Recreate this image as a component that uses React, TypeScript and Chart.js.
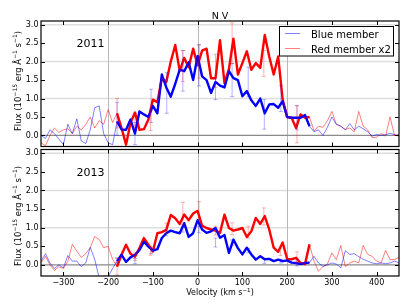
import { useEffect, useRef } from "react";
import { Chart, registerables } from "chart.js";
Chart.register(...registerables);

const FONT = "DejaVu Sans";

const velocity = [
  -350, -340, -330, -320, -310, -300, -290, -280, -270, -260,
  -250, -240, -230, -220, -210, -200, -190, -180, -170, -160,
  -150, -140, -130, -120, -110, -100, -90, -80, -70, -60,
  -50, -40, -30, -20, -10, 0, 10, 20, 30, 40,
  50, 60, 70, 80, 90, 100, 110, 120, 130, 140,
  150, 160, 170, 180, 190, 200, 210, 220, 230, 240,
  250, 260, 270, 280, 290, 300, 310, 320, 330, 340,
  350, 360, 370, 380, 390, 400, 410, 420, 430, 440, 450,
];

const blue2011 = [
  0.0, -0.08, 0.15, 0.05, -0.1, -0.25, 0.3, 0.05, 0.45, -0.15,
  -0.22, 0.15, 0.75, 0.8, 0.05, -0.2, -0.25, 0.38, 0.16, 0.15,
  0.43, 0.05, 0.65, 0.57, 0.5, 0.8, 0.6, 1.65, 1.3, 1.05,
  1.4, 1.78, 1.74, 1.98, 1.5, 2.15, 1.6, 1.5, 1.15, 1.45,
  1.35, 1.3, 1.74, 1.55, 1.5, 1.06, 1.2, 0.95, 0.8, 1.0,
  0.6, 0.84, 0.85, 0.75, 0.93, 0.5, 0.48, 0.48, 0.48, 0.55,
  0.25, 0.1, 0.15, 0.0, 0.22, 0.5, 0.3, 0.25, 0.15, 0.32,
  0.15, 0.25, 0.18, 0.1, -0.02, 0.02, 0.0, 0.02, 0.06, 0.02, -0.02,
];

const red2011 = [
  -0.2, -0.28, 0.0, 0.2, 0.08, 0.15, 0.18, 0.05, 0.25, 0.15,
  0.3, 0.5, 0.2, 0.4, 0.3, 0.7, 0.35, 0.6, 0.2, -0.25,
  0.34, 0.62, 0.15, 0.17, 0.43, 0.97, 0.9, 1.55, 1.45, 2.0,
  2.45, 1.75, 2.1, 1.85, 2.35, 1.9, 2.3, 2.35, 1.55, 1.55,
  2.58, 1.42, 1.8, 2.62, 1.65, 1.96, 2.28, 1.78, 1.96, 1.83,
  2.72, 2.14, 1.65, 2.14, 0.97, 0.5, 0.48, 0.2, 0.57, 0.48,
  0.5, 0.12, 0.25, 0.22, 0.4, 0.65, 0.3, 0.25, 0.16, 0.2,
  0.1, 0.65, 0.25, 0.15, -0.06, -0.05, 0.05, -0.02, 0.5, 0.0, 0.02,
];

const blue2013 = [
  0.1, 0.3, 0.05, -0.1, 0.0, -0.08, 0.25, 0.1, 0.1, -0.05,
  0.05, 0.47, 0.15, -0.35, -0.3, -0.32, -0.1, 0.1, 0.27, 0.08,
  0.2, 0.27, 0.4, 0.62, 0.49, 0.38, 0.42, 0.72, 0.85, 0.92,
  0.88, 0.85, 1.12, 0.75, 0.85, 1.2, 0.95, 0.86, 0.9, 0.99,
  0.73, 0.8, 0.32, 0.68, 0.45, 0.28, 0.46, 0.28, 0.14, 0.23,
  0.15, 0.16, 0.1, 0.14, 0.1, 0.12, 0.06, 0.05, 0.02, 0.05,
  0.06, 0.23, 0.05, -0.04, 0.0, 0.05, 0.02, -0.08, 0.38, 0.28,
  0.3, 0.22, 0.15, 0.1, 0.05, 0.03, 0.05, 0.03, 0.05, 0.1, 0.05,
];

const red2013 = [
  0.05, 0.23, 0.0, -0.15, -0.05, -0.1, 0.1, 0.55, 0.37, 0.2,
  0.3, 0.46, 0.76, 0.68, 0.46, 0.5, 0.15, -0.05, 0.27, 0.54,
  0.3, 0.22, 0.45, 0.72, 0.54, 0.36, 0.85, 0.88, 0.94, 1.34,
  1.25, 1.1, 1.35, 1.2, 1.38, 1.45, 1.05, 0.99, 0.95, 0.92,
  0.86, 1.35, 0.99, 0.92, 0.95, 0.99, 0.75, 0.9, 1.26, 1.1,
  1.31, 0.95, 0.46, 0.35, 0.6, 0.16, 0.15, 0.19, 0.05, 0.02,
  0.55, 0.1, -0.17, -0.05, 0.02, 0.32, 0.14, 0.52, -0.05, 0.05,
  0.1, 0.05, 0.52, 0.28, 0.23, 0.1, 0.05, 0.39, 0.14, 0.14, 0.2,
];

// velocity range drawn with the thick lines
const thickFrom = -180;
const thickTo = 250;

// error bars: velocity, centre, half-length
const err2011RedV = [-180, -140, -105, -33, 3, 40, 77, 148, 222];
const err2011RedY = [0.6, 0.4, 0.4, 1.88, 2.0, 1.75, 2.5, 1.95, 0.3];
const err2011RedE = [0.4, 0.2, 0.27, 0.42, 0.45, 0.45, 0.55, 0.35, 0.5];
const err2011BlueV = [-180, -140, -104, -69, -33, 3, 40, 77, 113, 149, 186, 222];
const err2011BlueY = [0.45, 0.05, 0.8, 1.15, 1.75, 1.9, 1.25, 1.5, 1.45, 0.57, 1.0, 0.48];
const err2011BlueE = [0.45, 0.3, 0.45, 0.55, 0.55, 0.56, 0.28, 0.45, 0.4, 0.4, 0.35, 0.33];

const err2013RedV = [-180, -140, -105, -70, -33, 3, 40, 77, 113, 148, 185, 222];
const err2013RedY = [-0.05, 0.22, 0.38, 0.98, 1.38, 1.45, 0.92, 0.97, 0.88, 1.3, 0.35, 0.2];
const err2013RedE = [0.22, 0.1, 0.12, 0.14, 0.3, 0.25, 0.12, 0.16, 0.16, 0.23, 0.1, 0.15];
const err2013BlueV = [-180, -140, -104, -70, -33, 3, 40, 77, 113, 149, 186, 222];
const err2013BlueY = [0.12, 0.1, 0.38, 0.85, 0.95, 0.95, 0.6, 0.6, 0.38, 0.1, 0.1, 0.05];
const err2013BlueE = [0.07, 0.07, 0.08, 0.07, 0.07, 0.09, 0.12, 0.07, 0.06, 0.06, 0.05, 0.08];

const xTicks = [-300, -200, -100, 0, 100, 200, 300, 400];
const xTickLabels = ["\u2212300", "\u2212200", "\u2212100", "0", "100", "200", "300", "400"];
const yTicks = [0, 0.5, 1, 1.5, 2, 2.5, 3];
const yTickLabels = ["0.0", "0.5", "1.0", "1.5", "2.0", "2.5", "3.0"];
const refVelocities = [-200, 0, 200];
const gridLevels = [1, 2, 3];

const xMin = -350, xMax = 450, yMin = -0.3, yMax = 3.1;

const BLUE = "#0000ff";
const RED = "#ff0000";
const BLUE_T = "rgba(0,0,255,0.5)";
const RED_T = "rgba(255,0,0,0.5)";
const BLUE_E = "rgba(0,0,255,0.3)";
const RED_E = "rgba(255,0,0,0.3)";

type Part = [string, boolean];

function drawRich(ctx: CanvasRenderingContext2D, parts: Part[], cx: number, base: number, size: number) {
  const sup = size * 0.7;
  let total = 0;
  for (const [t, s] of parts) {
    ctx.font = `${s ? sup : size}px "${FONT}"`;
    total += ctx.measureText(t).width;
  }
  let x = cx - total / 2;
  ctx.textAlign = "left";
  ctx.textBaseline = "alphabetic";
  for (const [t, s] of parts) {
    ctx.font = `${s ? sup : size}px "${FONT}"`;
    ctx.fillText(t, x, s ? base - size * 0.42 : base);
    x += ctx.measureText(t).width;
  }
}

const yLabelParts: Part[] = [
  ["Flux (10", false], ["\u221215", true], [" erg \u00c5", false], ["\u22121", true],
  [" s", false], ["\u22121", true], [")", false],
];
const xLabelParts: Part[] = [["Velocity (km s", false], ["\u22121", true], [")", false]];

interface Panel {
  year: string;
  blue: number[];
  red: number[];
  errs: { v: number[]; y: number[]; e: number[]; color: string }[];
  top: number;
  height: number;
  padTop: number;
  xHeight: number;
  showX: boolean;
  title: boolean;
  legend: boolean;
  yearBase: number;
  yLabelCenter: number;
}

function makePlugin(p: Panel) {
  return {
    id: "panelDecor",
    beforeDatasetsDraw(chart: any) {
      const { ctx, chartArea: a, scales } = chart;
      const x = scales.x, y = scales.y;
      ctx.save();
      ctx.beginPath();
      ctx.rect(a.left, a.top, a.right - a.left, a.bottom - a.top);
      ctx.clip();
      ctx.strokeStyle = "#dedede";
      ctx.lineWidth = 1.5;
      for (const g of gridLevels) {
        const py = y.getPixelForValue(g);
        ctx.beginPath(); ctx.moveTo(a.left, py); ctx.lineTo(a.right, py); ctx.stroke();
      }
      ctx.strokeStyle = "#b8b8b8";
      ctx.lineWidth = 1;
      for (const v of refVelocities) {
        const px = Math.round(x.getPixelForValue(v)) + 0.5;
        ctx.beginPath(); ctx.moveTo(px, a.top); ctx.lineTo(px, a.bottom); ctx.stroke();
      }
      ctx.strokeStyle = "#8a8a8a";
      ctx.lineWidth = 1.2;
      const pz = y.getPixelForValue(0);
      ctx.beginPath(); ctx.moveTo(a.left, pz); ctx.lineTo(a.right, pz); ctx.stroke();
      ctx.restore();
    },
    afterDatasetsDraw(chart: any) {
      const { ctx, chartArea: a, scales } = chart;
      const x = scales.x, y = scales.y;
      ctx.save();
      ctx.beginPath();
      ctx.rect(a.left, a.top, a.right - a.left, a.bottom - a.top);
      ctx.clip();
      ctx.lineWidth = 1;
      for (const set of p.errs) {
        ctx.strokeStyle = set.color;
        set.v.forEach((v, i) => {
          const px = x.getPixelForValue(v);
          const y1 = y.getPixelForValue(set.y[i] - set.e[i]);
          const y2 = y.getPixelForValue(set.y[i] + set.e[i]);
          ctx.beginPath();
          ctx.moveTo(px, y1); ctx.lineTo(px, y2);
          ctx.moveTo(px - 2, y1); ctx.lineTo(px + 2, y1);
          ctx.moveTo(px - 2, y2); ctx.lineTo(px + 2, y2);
          ctx.stroke();
        });
      }
      ctx.restore();
    },
    afterDraw(chart: any) {
      const { ctx, chartArea: a, scales } = chart;
      const x = scales.x, y = scales.y;
      ctx.save();
      // ticks (inward, all sides)
      ctx.strokeStyle = "#000";
      ctx.lineWidth = 1;
      for (const t of yTicks) {
        const py = Math.round(y.getPixelForValue(t)) + 0.5;
        ctx.beginPath();
        ctx.moveTo(a.left, py); ctx.lineTo(a.left + 4, py);
        ctx.moveTo(a.right, py); ctx.lineTo(a.right - 4, py);
        ctx.stroke();
      }
      for (const t of xTicks) {
        const px = Math.round(x.getPixelForValue(t)) + 0.5;
        ctx.beginPath();
        ctx.moveTo(px, a.top); ctx.lineTo(px, a.top + 4);
        ctx.moveTo(px, a.bottom); ctx.lineTo(px, a.bottom - 4);
        ctx.stroke();
      }
      // frame
      ctx.lineWidth = 1.2;
      ctx.strokeRect(a.left, a.top, a.right - a.left, a.bottom - a.top);

      ctx.fillStyle = "#000";
      // year label
      ctx.font = `11px "${FONT}"`;
      ctx.textAlign = "left";
      ctx.textBaseline = "alphabetic";
      ctx.fillText(p.year, 76.5, p.yearBase);

      if (p.title) {
        ctx.font = `9.5px "${FONT}"`;
        ctx.textAlign = "center";
        ctx.fillText("N V", (a.left + a.right) / 2, 18.5);
      }

      if (p.legend) {
        ctx.fillStyle = "#fff";
        ctx.fillRect(279.5, 26, 114, 30);
        ctx.strokeStyle = "#000";
        ctx.lineWidth = 1;
        ctx.strokeRect(279.5, 26.5, 114, 29.5);
        ctx.lineWidth = 1;
        ctx.strokeStyle = BLUE_T;
        ctx.beginPath(); ctx.moveTo(285, 33.5); ctx.lineTo(300, 33.5); ctx.stroke();
        ctx.strokeStyle = RED_T;
        ctx.beginPath(); ctx.moveTo(285, 48.5); ctx.lineTo(300, 48.5); ctx.stroke();
        ctx.fillStyle = "#000";
        ctx.font = `10px "${FONT}"`;
        ctx.textAlign = "left";
        ctx.fillText("Blue member", 311, 37.5);
        ctx.fillText("Red member x2", 311, 52.5);
      }

      // y label
      ctx.save();
      ctx.translate(20.5, p.yLabelCenter);
      ctx.rotate(-Math.PI / 2);
      drawRich(ctx, yLabelParts, 0, 0, 8.5);
      ctx.restore();

      if (p.showX) {
        drawRich(ctx, xLabelParts, (a.left + a.right) / 2, 295 - p.top, 8);
      }
      ctx.restore();
    },
  };
}

function PanelChart({ p }: { p: Panel }) {
  const ref = useRef<HTMLCanvasElement | null>(null);
  useEffect(() => {
    if (!ref.current) return;
    const i0 = velocity.indexOf(thickFrom);
    const i1 = velocity.indexOf(thickTo);
    const pts = (arr: number[]) => velocity.map((v, i) => ({ x: v, y: arr[i] }));
    const thick = (arr: number[]) => pts(arr).slice(i0, i1 + 1);
    const common = { pointRadius: 0, tension: 0, fill: false, borderJoinStyle: "round" as const };
    const chart = new Chart(ref.current, {
      type: "line",
      data: {
        datasets: [
          { ...common, data: pts(p.blue), borderColor: BLUE_T, borderWidth: 1 },
          { ...common, data: pts(p.red), borderColor: RED_T, borderWidth: 1 },
          { ...common, data: thick(p.blue), borderColor: BLUE, borderWidth: 2.4 },
          { ...common, data: thick(p.red), borderColor: RED, borderWidth: 2.4 },
        ],
      },
      options: {
        animation: false,
        responsive: false,
        events: [],
        layout: { padding: { left: 0, right: 8, top: p.padTop, bottom: 0 } },
        plugins: {
          legend: { display: false },
          title: { display: false },
          tooltip: { enabled: false },
        },
        scales: {
          x: {
            type: "linear",
            min: xMin,
            max: xMax,
            afterBuildTicks: (s: any) => { s.ticks = xTicks.map((v) => ({ value: v })); },
            afterFit: (s: any) => {
              s.height = p.xHeight;
              s.paddingLeft = 0; s.paddingRight = 0; s.paddingTop = 0; s.paddingBottom = 0;
            },
            ticks: {
              display: p.showX,
              autoSkip: false,
              maxRotation: 0,
              padding: 2,
              color: "#000",
              font: { family: FONT, size: 8 },
              callback: (v: any) => {
                const k = xTicks.indexOf(Number(v));
                return k >= 0 ? xTickLabels[k] : "";
              },
            },
            grid: { display: false, drawTicks: false },
            border: { display: false },
          },
          y: {
            type: "linear",
            min: yMin,
            max: yMax,
            afterBuildTicks: (s: any) => { s.ticks = yTicks.map((v) => ({ value: v })); },
            afterFit: (s: any) => {
              s.width = 41;
              s.paddingLeft = 0; s.paddingRight = 0; s.paddingTop = 0; s.paddingBottom = 0;
            },
            ticks: {
              autoSkip: false,
              padding: 2.5,
              color: "#000",
              font: { family: FONT, size: 8 },
              callback: (v: any) => {
                const k = yTicks.indexOf(Number(v));
                return k >= 0 ? yTickLabels[k] : "";
              },
            },
            grid: { display: false, drawTicks: false },
            border: { display: false },
          },
        },
      },
      plugins: [makePlugin(p)],
    } as any);
    return () => chart.destroy();
  }, [p]);
  return (
    <canvas
      ref={ref}
      width={407}
      height={p.height}
      style={{ position: "absolute", left: 0, top: p.top, width: 407, height: p.height, display: "block" }}
    />
  );
}

const panel2011: Panel = {
  year: "2011",
  blue: blue2011,
  red: red2011,
  errs: [
    { v: err2011BlueV, y: err2011BlueY, e: err2011BlueE, color: BLUE_E },
    { v: err2011RedV, y: err2011RedY, e: err2011RedE, color: RED_E },
  ],
  top: 0,
  height: 148,
  padTop: 21,
  xHeight: 1.5,
  showX: false,
  title: true,
  legend: true,
  yearBase: 46.5,
  yLabelCenter: 81,
};

const panel2013: Panel = {
  year: "2013",
  blue: blue2013,
  red: red2013,
  errs: [
    { v: err2013BlueV, y: err2013BlueY, e: err2013BlueE, color: BLUE_E },
    { v: err2013RedV, y: err2013RedY, e: err2013RedE, color: RED_E },
  ],
  top: 148,
  height: 159,
  padTop: 1.5,
  xHeight: 31,
  showX: true,
  title: false,
  legend: false,
  yearBase: 175.5 - 148,
  yLabelCenter: 216 - 148,
};

export default function App() {
  return (
    <div style={{ position: "fixed", left: 0, top: 0, width: 407, height: 307, background: "#fff" }}>
      <PanelChart p={panel2011} />
      <PanelChart p={panel2013} />
    </div>
  );
}
